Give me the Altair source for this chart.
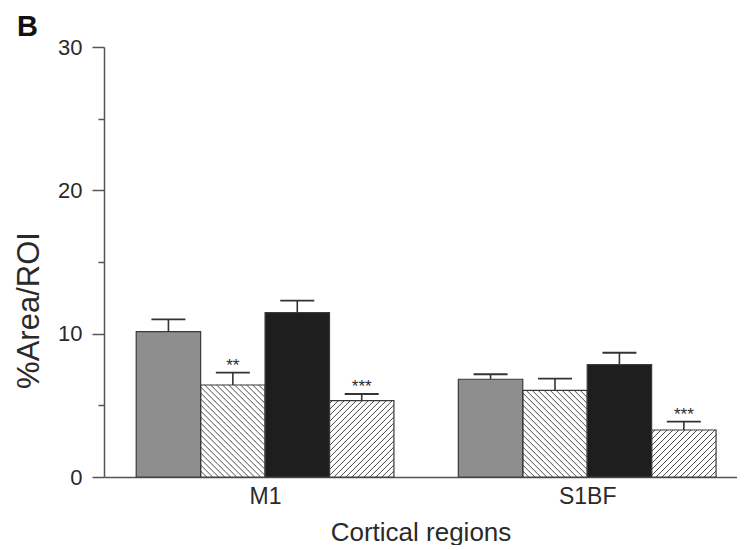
import json
import altair as alt
import pandas as pd

# ---- data ----
regions = ["M1", "S1BF"]
series = ["g1", "g2", "g3", "g4"]
means_M1 = [10.14, 6.42, 11.47, 5.33]
errs_M1 = [0.86, 0.86, 0.83, 0.46]
means_S1BF = [6.82, 6.05, 7.84, 3.28]
errs_S1BF = [0.35, 0.81, 0.83, 0.58]
stars_M1 = ["", "**", "", "***"]
stars_S1BF = ["", "", "", "***"]
major_ticks = [0, 10, 20, 30]
minor_ticks = [5, 15, 25]

# ---- styling ----
fills = ["#8e8e8e", "#ffffff", "#1e1e1e", "#ffffff"]
hatch = [None, "back", None, "fwd"]
W, H = 633, 430
XDOM = [-0.5, 1.465]
YDOM = [0, 30]
BW = 0.2            # bar width in group units
PX_X = W / (XDOM[1] - XDOM[0])
PX_Y = H / (YDOM[1] - YDOM[0])
CAP = 34 / PX_X
SP = 6.0            # hatch spacing (px)
FONT = "Liberation Sans"
INK = "#2a2a2a"
AXC = "#555555"

rows = []
for gi, (r, ms, es, ss) in enumerate([(regions[0], means_M1, errs_M1, stars_M1),
                                       (regions[1], means_S1BF, errs_S1BF, stars_S1BF)]):
    for k, s in enumerate(series):
        xc = gi + (k - 1.5) * BW
        rows.append(dict(region=r, series=s, xc=xc, x0=xc - BW / 2, x1=xc + BW / 2,
                         mean=ms[k], top=ms[k] + es[k], base=0.0,
                         c0=xc - CAP / 2, c1=xc + CAP / 2, star=ss[k], hatch=hatch[k]))
df = pd.DataFrame(rows)

segs = []
for _, b in df.iterrows():
    if b["hatch"] is None:
        continue
    Wp = (b["x1"] - b["x0"]) * PX_X
    Hp = b["mean"] * PX_Y
    c = -Wp if b["hatch"] == "fwd" else 0.0
    cmax = Hp if b["hatch"] == "fwd" else Wp + Hp
    while c <= cmax:
        if b["hatch"] == "fwd":
            ua, ub = max(0, -c), min(Wp, Hp - c)
            va, vb = ua + c, ub + c
        else:
            ua, ub = max(0, c - Hp), min(Wp, c)
            va, vb = -ua + c, -ub + c
        if ub > ua + 0.5:
            segs.append(dict(xa=b["x0"] + ua / PX_X, xb=b["x0"] + ub / PX_X,
                             ya=va / PX_Y, yb=vb / PX_Y))
        c += SP
hdf = pd.DataFrame(segs)
mdf = pd.DataFrame({"v": minor_ticks})

xs = alt.Scale(domain=XDOM, nice=False, zero=False)
ys = alt.Scale(domain=YDOM, nice=False)

x_axis = alt.Axis(values=[0, 1], labelExpr=f"{json.dumps(regions)}[datum.value]",
                  ticks=False, grid=False, title="Cortical regions",
                  labelFontSize=23, titleFontSize=26, labelPadding=8,
                  titleY=63, titleBaseline="alphabetic",
                  domainColor=AXC, domainWidth=1.5)
y_axis = alt.Axis(values=major_ticks, tickSize=12, grid=False, title="%Area/ROI",
                  labelFontSize=22, titleFontSize=31, labelPadding=10,
                  titleX=-66, titleY=263, titleBaseline="alphabetic",
                  domainColor=AXC, domainWidth=1.5, tickColor=AXC, tickWidth=1.5)
y_minor = alt.Axis(values=minor_ticks, tickSize=6, labels=False, domain=False, grid=False,
                   title=None, orient="left", tickColor=AXC, tickWidth=1.5)


def X(f):
    return alt.X(f, type="quantitative", scale=xs, axis=x_axis)


def Y(f):
    return alt.Y(f, type="quantitative", scale=ys, axis=y_axis)


base = alt.Chart(df)
bars = base.mark_rect().encode(
    x=X("x0"), x2="x1", y=Y("mean"), y2="base",
    fill=alt.Fill("series:N", scale=alt.Scale(domain=series, range=fills), legend=None),
)
hatches = alt.Chart(hdf).mark_rule(color="#4a4a4a", strokeWidth=1).encode(
    x=X("xa"), x2="xb", y=Y("ya"), y2="yb",
)
outlines = base.mark_rect(fillOpacity=0, stroke="#3a3a3a", strokeWidth=1.2).encode(
    x=X("x0"), x2="x1", y=Y("mean"), y2="base",
)
err = base.mark_rule(color="#333333", strokeWidth=1.6).encode(
    x=X("xc"), y=Y("mean"), y2="top",
)
caps = base.mark_rule(color="#333333", strokeWidth=1.8).encode(
    x=X("c0"), x2="c1", y=Y("top"),
)
stars = base.mark_text(fontSize=17, font=FONT, color=INK, dy=-2, baseline="alphabetic").encode(
    x=X("xc"), y=Y("top"), text="star:N",
)
main = alt.layer(bars, hatches, outlines, err, caps, stars)

minor = alt.Chart(mdf).mark_tick(opacity=0).encode(
    y=alt.Y("v:Q", scale=ys, axis=y_minor),
)

chart = alt.layer(main, minor).resolve_axis(y="independent").properties(
    width=W, height=H,
    title=alt.TitleParams("B", anchor="start", frame="group", fontSize=29, fontWeight="bold",
                          font=FONT, color="#111111", dx=-87, dy=9, offset=3),
    autosize=alt.AutoSizeParams(type="none"),
    padding={"left": 96, "top": 39, "right": 0, "bottom": 68},
).configure_view(stroke=None).configure_axis(
    labelFont=FONT, titleFont=FONT, labelColor=INK, titleColor=INK, titleFontWeight="normal"
)

chart.save("out.html", embed_options={"renderer": "svg", "actions": False})
